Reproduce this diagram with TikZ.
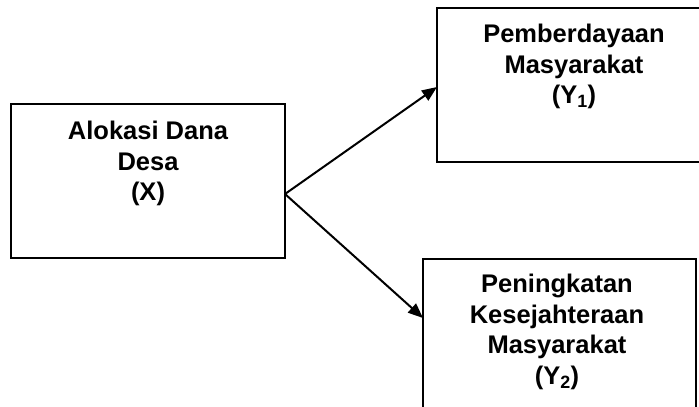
\documentclass[tikz,border=0pt]{standalone}
\usepackage{fontspec}
\setmainfont{Liberation Sans}
\usetikzlibrary{arrows.meta}
\begin{document}
\begin{tikzpicture}[x=1pt,y=-1pt,
  boxline/.style={draw=black,line width=2pt},
  lbl/.style={anchor=north,inner sep=0pt,align=center,font=\fontsize{25.5}{30.5}\selectfont\bfseries},
  conn/.style={line width=2pt,-{Triangle[length=15pt,width=12pt]}}]
\useasboundingbox (0,0) rectangle (699,407);
\clip (0,0) rectangle (699,407);
\node[boxline,minimum width=274pt,minimum height=154pt,inner sep=0pt] (x) at (148,181) {};
\node[boxline,minimum width=274pt,minimum height=154pt,inner sep=0pt] (y1) at (574,85) {};
\node[boxline,minimum width=273pt,minimum height=180pt,inner sep=0pt] (y2) at (559.5,349) {};
\node[lbl] (tx) at (148,121) {Alokasi Dana\\Desa\\(X)};
\node[lbl] (ty1) at (574,24) {Pemberdayaan\\Masyarakat\\(Y\textsubscript{1})};
\node[lbl] (ty2) at (557,274) {Peningkatan\\Kesejahteraan\\Masyarakat\\(Y\textsubscript{2})};
\coordinate (s) at (285,194);
\coordinate (t1) at (437,87);
\coordinate (t2) at (423,318);
\draw[conn] (s) -- (t1);
\draw[conn] (s) -- (t2);
\end{tikzpicture}
\end{document}
